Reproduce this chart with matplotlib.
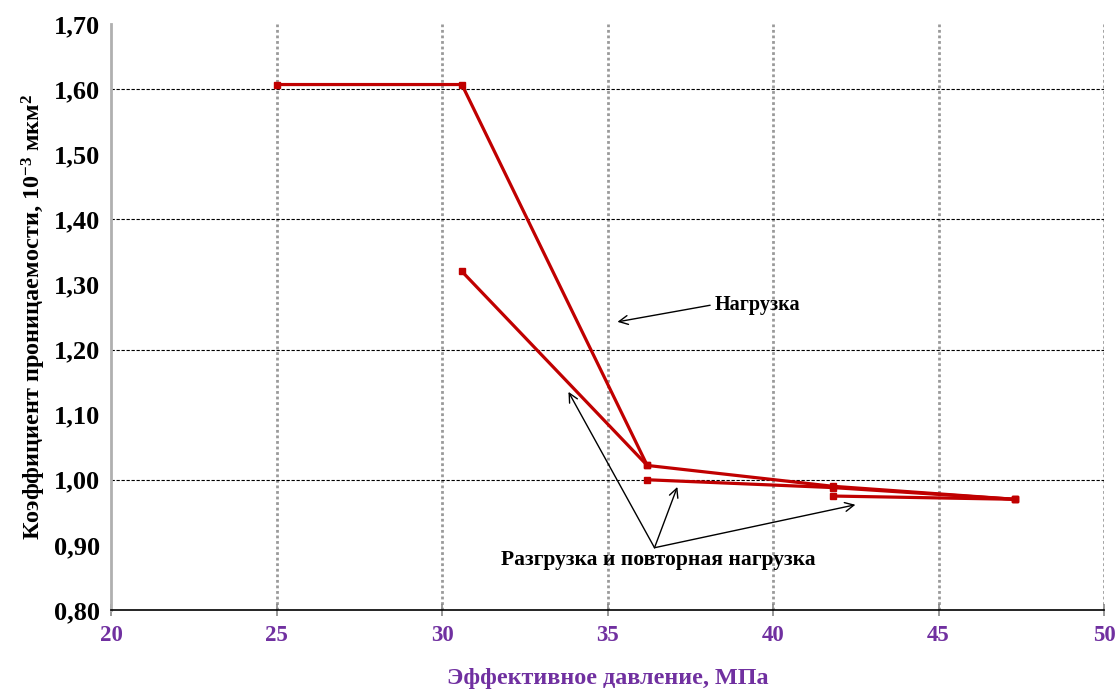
import matplotlib
matplotlib.use("Agg")
import matplotlib.pyplot as plt
import numpy as np

# Loading branch
load_p = [25.0, 30.6, 36.2, 41.8, 47.3]
load_k = [1.607, 1.607, 1.022, 0.990, 0.970]

# Unloading / reloading segments
reload_p = [30.6, 36.2]
reload_k = [1.320, 1.022]

unload_p = [36.2, 41.8, 47.3]
unload_k = [1.000, 0.988, 0.970]

tail_p = [41.8, 47.3]
tail_k = [0.975, 0.970]

y_labels = ["0,80", "0,90", "1,00", "1,10", "1,20", "1,30", "1,40", "1,50", "1,60", "1,70"]
x_ticks = [20, 25, 30, 35, 40, 45, 50]

RED = "#c00000"
PURPLE = "#7030a0"
SERIF = ["Liberation Serif", "DejaVu Serif"]

plt.rcParams["font.family"] = SERIF
plt.rcParams["mathtext.fontset"] = "custom"
plt.rcParams["mathtext.rm"] = "Liberation Serif:bold"
plt.rcParams["mathtext.bf"] = "Liberation Serif:bold"
plt.rcParams["mathtext.it"] = "Liberation Serif:bold"
plt.rcParams["mathtext.default"] = "rm"

fig = plt.figure(figsize=(11.19, 6.89), dpi=100)
ax = fig.add_axes([0.0992, 0.1147, 0.8874, 0.8505])

ax.set_xlim(20, 50)
ax.set_ylim(0.8, 1.70)

# vertical grey dotted grid
for xv in x_ticks[1:]:
    ax.axvline(xv, color="#9a9a9a", lw=2.0, ls=(0, (1, 1)), zorder=1)
# horizontal dashed grid
for yv in [1.0, 1.2, 1.4, 1.6]:
    ax.axhline(yv, color="black", lw=0.8, ls=(0, (3, 1.5)), zorder=1)

for px, ky in [(load_p, load_k), (reload_p, reload_k), (unload_p, unload_k), (tail_p, tail_k)]:
    ax.plot(px, ky, color=RED, lw=2.3, marker="s", ms=5, mec=RED, mfc=RED, zorder=3)

# axes styling
for s in ["top", "right"]:
    ax.spines[s].set_visible(False)
ax.spines["left"].set_color("#b0b0b0")
ax.spines["left"].set_linewidth(2.0)
ax.spines["bottom"].set_color("black")
ax.spines["bottom"].set_linewidth(1.2)

ax.set_xticks(x_ticks)
ax.set_xticklabels([str(v) for v in x_ticks], color=PURPLE, fontsize=16.5, fontweight="bold")
ax.tick_params(axis="x", direction="inout", length=8, color="#888888", width=1.2, pad=7)

yt = np.round(np.arange(0.8, 1.701, 0.1), 2)
ax.set_yticks(yt)
ax.set_yticklabels(y_labels, fontsize=19, fontweight="bold", color="black")
ax.tick_params(axis="y", length=0, pad=8)
ax.set_yticks([0.8, 1.0, 1.2, 1.4, 1.6], minor=True)
ax.tick_params(axis="y", which="minor", direction="out", length=6, color="black", width=0.8)

ax.set_xlabel("Эффективное давление, МПа", color=PURPLE, fontsize=17.4, fontweight="bold", labelpad=16)
ax.set_ylabel("Коэффициент проницаемости, 10$^{-3}$ мкм$^{2}$", fontsize=17.5, fontweight="bold", labelpad=4)

# annotations
arrow = dict(arrowstyle="->", color="black", lw=1.0, mutation_scale=16, shrinkA=0, shrinkB=0)
ax.annotate("", xy=(35.30, 1.2425), xytext=(38.10, 1.268), arrowprops=arrow, zorder=4)
ax.text(38.25, 1.268, "Нагрузка", fontsize=14.5, fontweight="bold", va="center", ha="left")

apex = (36.42, 0.8956)
for tgt in [(33.82, 1.135), (37.11, 0.989), (42.49, 0.9616)]:
    ax.annotate("", xy=tgt, xytext=apex, arrowprops=arrow, zorder=4)
ax.text(36.55, 0.876, "Разгрузка и повторная нагрузка", fontsize=15.5, fontweight="bold",
        va="center", ha="center")

fig.savefig("out.png", dpi=100)
